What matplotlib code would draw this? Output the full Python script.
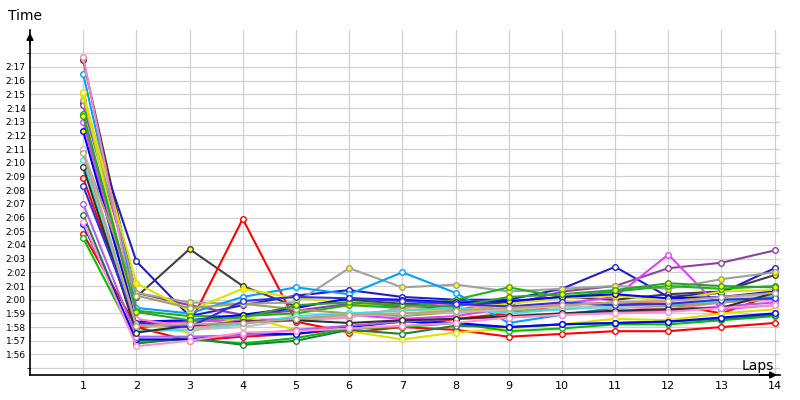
import matplotlib
matplotlib.use("Agg")
import matplotlib.pyplot as plt

laps = list(range(1, 15))
ytick_secs = list(range(116, 138))
ytick_labels = [f"{s//60}:{s%60:02d}" for s in ytick_secs]

series = [
    ("#404040", "yellow", [137.5,120.2,123.7,121.0,119.5,120.0,119.7,119.6,119.8,120.2,120.0,120.4,120.6,121.8]),
    ("#ff0000", "white",  [128.9,118.0,118.2,125.9,118.4,117.6,118.0,118.6,119.0,119.6,119.8,119.7,119.0,120.4]),
    ("#ff0000", "white",  [124.8,118.0,117.0,117.3,117.5,117.9,118.0,117.8,117.3,117.5,117.7,117.7,118.0,118.3]),
    ("#2020c0", "white",  [134.4,122.8,118.8,119.6,120.3,120.7,120.2,120.0,120.0,120.8,122.4,120.2,120.5,122.3]),
    ("#9040a0", "white",  [134.2,120.5,119.6,118.9,119.2,119.7,119.5,119.3,119.6,120.6,121.0,122.3,122.7,123.6]),
    ("#e040ff", "white",  [133.0,118.3,118.4,118.5,118.6,118.9,118.6,118.8,119.4,119.7,120.2,123.3,119.3,119.6]),
    ("#a0a0a0", "yellow", [134.6,120.5,119.8,119.7,119.8,122.3,120.9,121.1,120.6,120.8,121.0,120.8,121.5,122.0]),
    ("#00a0ff", "white",  [136.5,119.4,119.0,120.2,120.9,120.4,122.0,120.5,118.3,118.9,119.4,119.6,119.8,120.2]),
    ("#e0e000", "yellow", [135.0,121.2,119.2,120.8,120.1,119.8,119.3,119.2,119.7,120.1,120.3,119.9,120.6,120.7]),
    ("#e0e000", "white",  [135.2,118.2,117.6,118.8,117.8,117.7,117.1,117.6,117.9,118.2,118.6,118.5,119.0,119.3]),
    ("#20b020", "yellow", [133.6,119.2,118.8,118.8,119.0,119.6,119.4,120.0,120.9,120.2,120.6,121.0,120.8,121.0]),
    ("#00c000", "white",  [124.5,117.0,117.1,116.8,117.2,117.9,118.0,118.3,117.7,117.9,118.2,118.2,118.5,118.8]),
    ("#208040", "white",  [126.2,116.8,117.2,116.7,117.0,117.8,117.5,118.1,118.0,118.2,118.3,118.4,118.6,118.9]),
    ("#0000ff", "white",  [125.5,117.1,117.1,117.5,117.5,118.0,118.4,118.3,118.0,118.2,118.3,118.4,118.7,119.0]),
    ("#0000ff", "yellow", [132.3,118.4,118.5,118.9,119.4,120.1,120.0,119.8,119.9,120.2,120.4,120.1,120.2,120.6]),
    ("#ff80c0", "white",  [137.7,118.6,118.0,118.3,118.5,118.7,119.4,119.7,119.2,119.8,119.5,119.3,119.8,120.0]),
    ("#a0a060", "white",  [130.8,120.3,119.4,119.7,119.3,119.0,118.8,119.1,119.2,119.3,119.6,119.5,119.8,120.1]),
    ("#40e0e0", "white",  [130.2,117.7,117.8,118.2,118.8,119.0,119.2,119.4,119.0,119.3,119.5,119.7,119.9,120.3]),
    ("#c0c0c0", "white",  [131.0,118.2,117.8,118.0,118.6,118.8,119.0,119.1,119.3,119.5,119.4,119.7,120.0,120.5]),
    ("#b060e0", "white",  [127.0,117.3,117.3,117.4,117.8,118.1,118.4,118.6,118.7,118.9,119.1,119.2,119.5,119.8]),
    ("#30a030", "yellow", [133.4,119.1,118.5,118.7,119.6,119.8,119.6,119.5,120.2,120.4,120.7,121.2,121.0,120.9]),
    ("#303030", "white",  [129.7,117.6,118.1,118.4,118.5,118.3,118.5,118.6,118.8,119.0,119.2,119.3,119.4,120.5]),
    ("#3030e0", "white",  [128.3,118.3,118.0,119.9,120.2,120.1,119.9,119.7,119.5,119.8,119.6,119.7,120.0,120.1]),
    ("#ff90d0", "white",  [125.7,116.6,117.0,117.6,117.7,117.9,118.1,118.3,118.7,118.9,119.0,119.1,119.4,119.6]),
    ("#c0a080", "white",  [130.7,118.1,118.2,118.3,118.6,118.9,119.0,119.2,119.4,119.6,119.8,119.9,120.2,120.5]),
]

fig = plt.figure(figsize=(8, 4), dpi=100)
ax = fig.add_axes([30/800, 25/400, 750/800, 345/400])
ax.set_xlim(0, 14.1)
ax.set_ylim(114.5, 139.7)
for color, face, vals in series:
    ax.plot(laps, vals, color=color, lw=1.5, marker="o", ms=4,
            mfc=face, mec=color, mew=1.0, zorder=3)

ax.set_xticks(laps)
ax.set_xticklabels([str(l) for l in laps], fontsize=8)
ax.set_yticks(ytick_secs)
ax.set_yticklabels(ytick_labels, fontsize=6.5)
ax.set_yticks(list(range(115, 139)), minor=True)
ax.grid(True, which="major", color="#d0d0d0", lw=0.9, zorder=0)
ax.grid(True, which="minor", axis="y", color="#d0d0d0", lw=0.9, zorder=0)
ax.tick_params(length=0, pad=4)
ax.tick_params(axis="y", pad=3)
for s in ["top", "right"]:
    ax.spines[s].set_visible(False)
ax.spines["left"].set_linewidth(1.2)
ax.spines["bottom"].set_linewidth(1.2)
ax.annotate("", xy=(0, 1.0), xycoords="axes fraction", xytext=(0, 0.95),
            arrowprops=dict(arrowstyle="-|>", color="black", lw=1.2))
ax.annotate("", xy=(1.0, 0), xycoords="axes fraction", xytext=(0.97, 0),
            arrowprops=dict(arrowstyle="-|>", color="black", lw=1.2))
fig.text(8/800, 1 - 16/400, "Time", fontsize=10, va="center")
fig.text(742/800, 1 - 366/400, "Laps", fontsize=10, va="center")
fig.savefig("out.png")
